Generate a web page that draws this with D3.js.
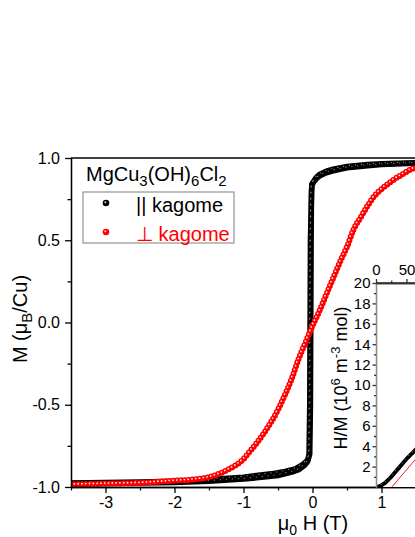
<!DOCTYPE html>
<html>
<head>
<meta charset="utf-8">
<script src="https://cdn.jsdelivr.net/npm/d3@7"></script>
<style>
  body { margin: 0; background: #fff; }
  svg { display: block; }
  text { font-family: "Liberation Sans", Arial, sans-serif; }
</style>
</head>
<body>
<script>
/* M(H) data, || kagome, field sweep up */
var blackUpH = [-3.5, -3, -2.5, -2, -1.5, -1, -0.7, -0.5, -0.3, -0.2, -0.12, -0.07, -0.04, -0.03, -0.025, -0.02, -0.015, -0.005, 0.02, 0.06, 0.1, 0.2, 0.3, 0.5, 0.8, 1, 1.5, 2, 2.5, 3, 3.5];
var blackUpM = [-0.978, -0.977, -0.975, -0.972, -0.965, -0.952, -0.94, -0.93, -0.91, -0.895, -0.87, -0.845, -0.80, -0.5, 0, 0.5, 0.8, 0.84, 0.855, 0.875, 0.89, 0.91, 0.922, 0.94, 0.953, 0.96, 0.968, 0.973, 0.976, 0.978, 0.98];
/* || kagome, field sweep down */
var blackDownH = [3.5, 3, 2.5, 2, 1.5, 1, 0.8, 0.5, 0.3, 0.2, 0.1, 0.05, 0.02, -0.01, -0.03, -0.035, -0.04, -0.05, -0.065, -0.09, -0.15, -0.25, -0.4, -0.6, -1, -1.5, -2, -2.5, -3, -3.5];
var blackDownM = [0.982, 0.98, 0.978, 0.975, 0.972, 0.965, 0.96, 0.948, 0.932, 0.92, 0.9, 0.88, 0.86, 0.84, 0.5, 0, -0.5, -0.8, -0.83, -0.845, -0.865, -0.89, -0.905, -0.92, -0.94, -0.955, -0.965, -0.97, -0.973, -0.975];
/* perp kagome */
var redH = [-3.5, -3, -2.5, -2, -1.75, -1.5, -1.25, -1, -0.9, -0.7, -0.5, -0.4, -0.3, -0.2, -0.1, 0, 0.1, 0.2, 0.3, 0.4, 0.5, 0.6, 0.7, 0.8, 0.9, 1, 1.15, 1.3, 1.45, 1.75, 2, 2.5, 3, 3.5];
var redM = [-0.985, -0.98, -0.975, -0.962, -0.955, -0.94, -0.9, -0.83, -0.78, -0.67, -0.53, -0.44, -0.34, -0.22, -0.12, -0.02, 0.07, 0.17, 0.27, 0.37, 0.46, 0.57, 0.64, 0.71, 0.77, 0.81, 0.86, 0.9, 0.935, 0.955, 0.965, 0.975, 0.98, 0.985];
/* inset: H/M vs T */
var insetT = [2, 5, 10, 15, 20, 25, 30, 35, 40, 45, 50, 55, 60, 65, 70];
var insetHM = [0, 0.05, 0.2, 0.4, 0.7, 1.0, 1.35, 1.7, 2.05, 2.4, 2.75, 3.05, 3.35, 3.65, 3.95];
var fitT = [26, 300];
var fitHM = [0, 19.2];

/* only the ticks that fall inside the visible window */
var xTicks = [-3, -2, -1, 0, 1];
var xMinor = [-3.5, -2.5, -1.5, -0.5, 0.5, 1.5];
var yTicks = [-1, -0.5, 0, 0.5, 1];
var yMinor = [-0.75, -0.25, 0.25, 0.75];
var insetYTicks = [2, 4, 6, 8, 10, 12, 14, 16, 18, 20];
var insetYMinor = [1, 3, 5, 7, 9, 11, 13, 15, 17, 19];
var insetXTicks = [0, 50];
var insetXMinor = [25];

function pairs(a, b) { return a.map(function (v, i) { return [v, b[i]]; }); }

var svg = d3.select('body').append('svg')
  .attr('width', 415)
  .attr('height', 537);

var x = d3.scaleLinear().domain([-3.5, 3.5]).range([71, 554]);
var y = d3.scaleLinear().domain([-1, 1]).range([487, 158]);

var defs = svg.append('defs');
defs.append('clipPath').attr('id', 'mainClip').append('rect')
  .attr('x', 71).attr('y', 150).attr('width', 483).attr('height', 340);
defs.append('clipPath').attr('id', 'insetClip').append('rect')
  .attr('x', 376).attr('y', 283).attr('width', 200).attr('height', 204);

/* main data */
var line = d3.line().x(function (d) { return x(d[0]); }).y(function (d) { return y(d[1]); });
var data = svg.append('g').attr('clip-path', 'url(#mainClip)');

[pairs(blackUpH, blackUpM), pairs(blackDownH, blackDownM)].forEach(function (p) {
  data.append('path').attr('d', line(p))
    .attr('fill', 'none').attr('stroke', '#000').attr('stroke-width', 5.5)
    .attr('stroke-linejoin', 'round').attr('stroke-linecap', 'round');
});
[pairs(blackUpH, blackUpM), pairs(blackDownH, blackDownM)].forEach(function (p) {
  data.append('path').attr('d', line(p))
    .attr('fill', 'none').attr('stroke', '#fff').attr('stroke-width', 1.2)
    .attr('stroke-dasharray', '0 6').attr('stroke-linecap', 'round')
    .attr('opacity', 0.6).attr('transform', 'translate(-0.6,-0.8)');
});

var redLine = d3.line().curve(d3.curveMonotoneX)
  .x(function (d) { return x(d[0]); }).y(function (d) { return y(d[1]); });
var redPts = pairs(redH, redM);
data.append('path').attr('d', redLine(redPts))
  .attr('fill', 'none').attr('stroke', '#ff0000').attr('stroke-width', 6)
  .attr('stroke-dasharray', '0 3.8').attr('stroke-linecap', 'round');
data.append('path').attr('d', redLine(redPts))
  .attr('fill', 'none').attr('stroke', '#fff').attr('stroke-width', 1.8)
  .attr('stroke-dasharray', '0 3.8').attr('stroke-linecap', 'round')
  .attr('opacity', 0.9).attr('transform', 'translate(-0.5,-0.6)');

/* main axes */
function styleAxis(g, color, size) {
  g.select('.domain').attr('stroke', color).attr('stroke-width', 1.3);
  g.selectAll('.tick line').attr('stroke', color).attr('stroke-width', 1.3);
  g.selectAll('.tick text').attr('fill', '#000').style('font-size', (size || 16) + 'px')
    .style('font-family', '"Liberation Sans", Arial, sans-serif');
}

svg.append('line').attr('x1', 71).attr('x2', 554).attr('y1', 158).attr('y2', 158)
  .attr('stroke', '#000').attr('stroke-width', 1.3);

var gy = svg.append('g').attr('transform', 'translate(71,0)')
  .call(d3.axisLeft(y).tickValues(yTicks).tickSize(6).tickPadding(5).tickSizeOuter(0)
    .tickFormat(function (d) { return d.toFixed(1); }));
styleAxis(gy, '#000');
var gym = svg.append('g').attr('transform', 'translate(71,0)')
  .call(d3.axisLeft(y).tickValues(yMinor).tickSize(3.5).tickSizeOuter(0).tickFormat(''));
styleAxis(gym, '#000');

var gx = svg.append('g').attr('transform', 'translate(0,487)')
  .call(d3.axisBottom(x).tickValues(xTicks).tickSize(6).tickPadding(4).tickSizeOuter(0)
    .tickFormat(function (d) { return String(d); }));
styleAxis(gx, '#000');
var gxm = svg.append('g').attr('transform', 'translate(0,487)')
  .call(d3.axisBottom(x).tickValues(xMinor).tickSize(3.5).tickSizeOuter(0).tickFormat(''));
styleAxis(gxm, '#000');

/* axis titles */
var xt = svg.append('text').attr('x', 313).attr('y', 530).attr('text-anchor', 'middle')
  .style('font-size', '20px');
xt.append('tspan').text('μ');
xt.append('tspan').attr('dy', 5).style('font-size', '14px').text('0');
xt.append('tspan').attr('dy', -5).text(' H (T)');

var yt = svg.append('text').attr('transform', 'translate(27,319) rotate(-90)')
  .attr('text-anchor', 'middle').style('font-size', '20px');
yt.append('tspan').text('M (μ');
yt.append('tspan').attr('dy', 5).style('font-size', '15px').text('B');
yt.append('tspan').attr('dy', -5).text('/Cu)');

/* legend */
var tt = svg.append('text').attr('x', 86).attr('y', 181).style('font-size', '20px');
tt.append('tspan').text('MgCu');
tt.append('tspan').attr('dy', 5).style('font-size', '15px').text('3');
tt.append('tspan').attr('dy', -5).text('(OH)');
tt.append('tspan').attr('dy', 5).style('font-size', '15px').text('6');
tt.append('tspan').attr('dy', -5).text('Cl');
tt.append('tspan').attr('dy', 5).style('font-size', '15px').text('2');

svg.append('rect').attr('x', 83).attr('y', 192).attr('width', 151).attr('height', 51)
  .attr('fill', '#fff').attr('stroke', '#7f7f7f').attr('stroke-width', 1);

var legendNames = ['|| kagome', '⊥ kagome'];
var legendColors = ['#000', '#ff0000'];
legendNames.forEach(function (name, i) {
  var cy = 203 + i * 29;
  svg.append('circle').attr('cx', 106).attr('cy', cy).attr('r', 3.3).attr('fill', legendColors[i]);
  svg.append('circle').attr('cx', 105.3).attr('cy', cy - 0.8).attr('r', 1).attr('fill', '#fff').attr('opacity', 0.8);
  svg.append('text').attr('x', 136).attr('y', cy + 8.5).attr('fill', legendColors[i])
    .style('font-size', '20px').text(name);
});

/* inset */
var xi = d3.scaleLinear().domain([0, 300]).range([376, 559]);
var yi = d3.scaleLinear().domain([0, 20]).range([487, 283]);

svg.append('rect').attr('x', 376).attr('y', 283).attr('width', 200).attr('height', 204).attr('fill', '#fff');

var lineI = d3.line().x(function (d) { return xi(d[0]); }).y(function (d) { return yi(d[1]); });
var gi = svg.append('g').attr('clip-path', 'url(#insetClip)');
gi.append('path').attr('d', lineI(pairs(fitT, fitHM)))
  .attr('fill', 'none').attr('stroke', '#ff0000').attr('stroke-width', 0.9);
gi.append('path').attr('d', lineI(pairs(insetT, insetHM)))
  .attr('fill', 'none').attr('stroke', '#000').attr('stroke-width', 4)
  .attr('stroke-linejoin', 'round').attr('stroke-linecap', 'round');
gi.append('path').attr('d', lineI(pairs(insetT, insetHM)))
  .attr('fill', 'none').attr('stroke', '#fff').attr('stroke-width', 1)
  .attr('stroke-dasharray', '0 5').attr('stroke-linecap', 'round')
  .attr('opacity', 0.6).attr('transform', 'translate(-0.5,-0.6)');

var giy = svg.append('g').attr('transform', 'translate(376,0)')
  .call(d3.axisLeft(yi).tickValues(insetYTicks).tickSize(3.5).tickPadding(2).tickSizeOuter(0)
    .tickFormat(function (d) { return String(d); }));
styleAxis(giy, '#8c8c8c', 15);
giy.selectAll('.tick line').attr('stroke', '#333');
var giym = svg.append('g').attr('transform', 'translate(376,0)')
  .call(d3.axisLeft(yi).tickValues(insetYMinor).tickSize(2).tickSizeOuter(0).tickFormat(''));
styleAxis(giym, '#8c8c8c');
giym.selectAll('.tick line').attr('stroke', '#333');

svg.append('line').attr('x1', 376).attr('x2', 415).attr('y1', 283).attr('y2', 283)
  .attr('stroke', '#333').attr('stroke-width', 1.3);
var gix = svg.append('g').attr('transform', 'translate(0,283)')
  .call(d3.axisTop(xi).tickValues(insetXTicks).tickSize(4).tickPadding(4).tickSizeOuter(0)
    .tickFormat(function (d) { return String(d); }));
styleAxis(gix, '#333', 15);
var gixm = svg.append('g').attr('transform', 'translate(0,283)')
  .call(d3.axisTop(xi).tickValues(insetXMinor).tickSize(2.5).tickSizeOuter(0).tickFormat(''));
styleAxis(gixm, '#333');

var it = svg.append('text').attr('transform', 'translate(347,378) rotate(-90)')
  .attr('text-anchor', 'middle').style('font-size', '18px');
it.append('tspan').text('H/M (10');
it.append('tspan').attr('dy', -7).style('font-size', '13px').text('6');
it.append('tspan').attr('dy', 7).text(' m');
it.append('tspan').attr('dy', -7).style('font-size', '13px').text('-3');
it.append('tspan').attr('dy', 7).text(' mol)');
</script>
</body>
</html>
